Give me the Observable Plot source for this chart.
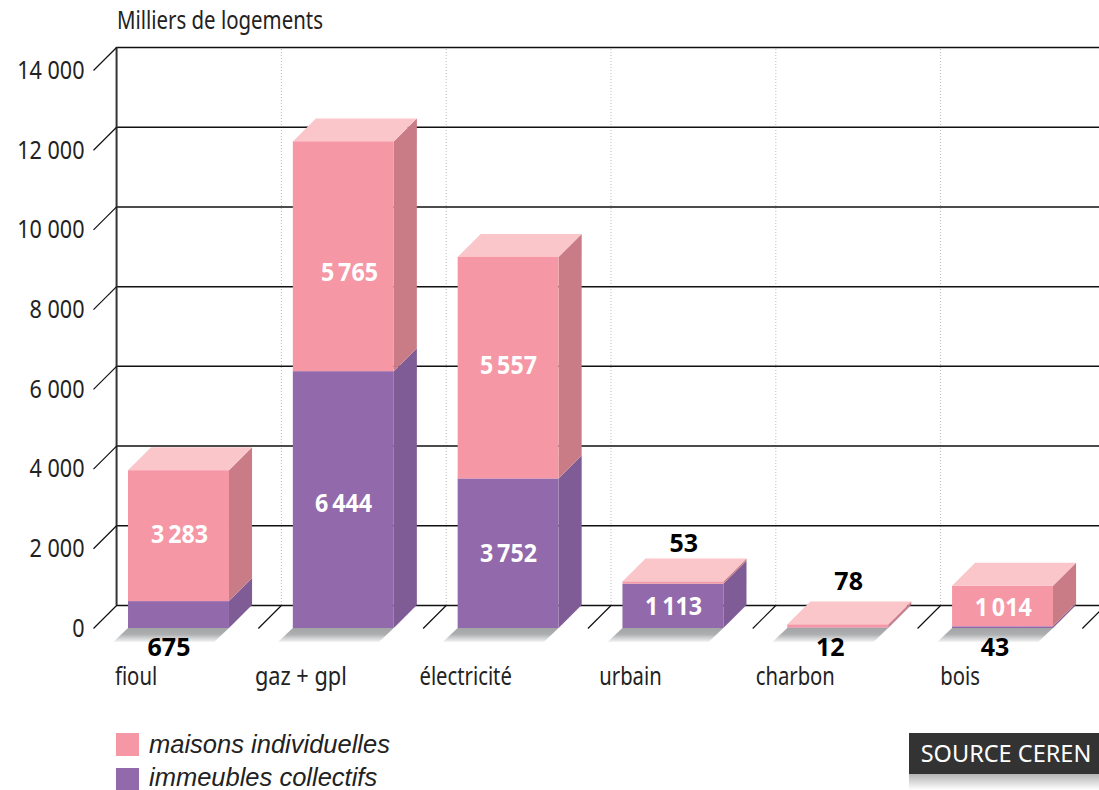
<!DOCTYPE html>
<html lang="fr">
<head>
<meta charset="utf-8">
<script src="https://cdn.jsdelivr.net/npm/d3@7"></script>
<script src="https://cdn.jsdelivr.net/npm/@observablehq/plot@0.6"></script>
<style>
  html, body { margin: 0; padding: 0; background: #fff; overflow: hidden; width: 1099px; height: 790px; }
  body { font-family: "Noto Sans", sans-serif; }
  #title { position: relative; height: 40px; }
  #title span { position: absolute; left: 117px; top: 3px; font-size: 25px; line-height: 32px; color: #222; transform: scaleX(.816); transform-origin: left center; white-space: nowrap; }
  #chart svg { display: block; }
  #foot { position: relative; height: 90px; overflow: hidden; }
  .sw { position: absolute; left: 116px; width: 23px; height: 23px; }
  .lg { position: absolute; left: 149px; font: italic 300 25.5px/26px "Liberation Sans", sans-serif; color: #222; white-space: nowrap; }
  #src { position: absolute; left: 909px; top: 33px; width: 190px; height: 41px; background: #333; color: #fff; font-size: 23.5px; line-height: 41px; text-align: center; text-indent: 4px; }
  #srcshade { position: absolute; left: 909px; top: 74px; width: 190px; height: 16px; background: linear-gradient(#b4b4b4, #fff); }
</style>
</head>
<body>
<div id="title"><span>Milliers de logements</span></div>
<div id="chart"></div>
<div id="foot">
  <div class="sw" style="top:33px;background:#f597a4"></div>
  <div class="lg" style="top:31px">maisons individuelles</div>
  <div class="sw" style="top:68px;height:22px;background:#9269ab"></div>
  <div class="lg" style="top:64px">immeubles collectifs</div>
  <div id="src">SOURCE CEREN</div>
  <div id="srcshade"></div>
</div>
<script>
const categories = ["fioul", "gaz + gpl", "électricité", "urbain", "charbon", "bois"];
const immeubles = [675, 6444, 3752, 1113, 12, 43];
const maisons = [3283, 5765, 5557, 53, 78, 1014];
const yTicks = [0, 2000, 4000, 6000, 8000, 10000, 12000, 14000];

// label anchors, in chart units (category index + fraction, thousands of dwellings)
const whiteLabels = [
  [0.522, 2350, "3\u2009283"], [1.553, 8930, "5\u2009765"], [1.517, 3130, "6\u2009444"],
  [2.518, 6580, "5\u2009557"], [2.518, 1860, "3\u2009752"], [3.52, 550, "1\u2009113"], [5.52, 520, "1\u2009014"]
];
const blackLabels = [
  [0.458, -480, "675"], [3.582, 2120, "53"], [4.582, 1160, "78"], [4.47, -500, "12"], [5.47, -500, "43"]
];

const depthX = 0.14, depthY = 577, shadowX = 0.09, shadowY = 351;
const barL = 0.2125, barR = 0.825;
const xEnd = 6.104;
const fmt = d3.formatLocale({thousands: "\u00a0", grouping: [3], decimal: ","}).format(",");

const fronts = [], sides = [], tops = [], shadows = [];
categories.forEach((c, i) => {
  const l = i + barL, r = i + barR, a = immeubles[i], b = a + maisons[i];
  fronts.push({x1: l, x2: r, y1: 0, y2: a, face: "immeubles"}, {x1: l, x2: r, y1: a, y2: b, face: "maisons"});
  [[0, a, "immeublesCote"], [a, b, "maisonsCote"]].forEach(([lo, hi, face]) => {
    sides.push({key: c + face, face, x1: r, x2: r, y1: lo, y2: hi},
               {key: c + face, face, x1: r + depthX, x2: r + depthX, y1: lo + depthY, y2: hi + depthY});
  });
  tops.push({key: c, face: "maisonsDessus", x1: l, x2: r, y1: b, y2: b},
            {key: c, face: "maisonsDessus", x1: l + depthX, x2: r + depthX, y1: b + depthY, y2: b + depthY});
  shadows.push({key: c, x1: l, x2: r, y1: 0, y2: 0},
               {key: c, x1: l - shadowX, x2: r - shadowX, y1: -shadowY, y2: -shadowY});
});
const boundaries = d3.range(0, categories.length + 1);
const gradient = () => {
  const defs = d3.create("svg:defs");
  const g = defs.append("linearGradient").attr("id", "shade").attr("x1", 0).attr("x2", 0).attr("y1", 0).attr("y2", 1);
  g.append("stop").attr("offset", "0%").attr("stop-color", "#a2a4a6");
  g.append("stop").attr("offset", "45%").attr("stop-color", "#acaeb0");
  g.append("stop").attr("offset", "100%").attr("stop-color", "#f4f4f4");
  return defs.node();
};

const plot = Plot.plot({
  width: 1099, height: 660,
  marginLeft: 93, marginRight: 0, marginTop: 0, marginBottom: 0,
  x: {domain: [0, xEnd], axis: null},
  y: {domain: [0, 14000], range: [588, 30], axis: null},
  color: {
    domain: ["immeubles", "maisons", "immeublesCote", "maisonsCote", "maisonsDessus"],
    range: ["#9269ab", "#f597a4", "#7f5c96", "#c97c86", "#fac6ca"]
  },
  marks: [
    gradient,
    Plot.ruleX(boundaries.slice(1, -1), {x: d => d + depthX, y1: depthY, y2: 14000 + depthY, stroke: "#bbb", strokeDasharray: "1,2", strokeWidth: 1}),
    Plot.ruleY(yTicks, {y: d => d + depthY, x1: depthX, x2: xEnd, stroke: "#111", strokeWidth: 1.5}),
    Plot.ruleX([depthX], {y1: depthY, y2: 14000 + depthY, stroke: "#333", strokeWidth: 2}),
    Plot.link(yTicks, {x1: 0, x2: depthX, y1: d => d, y2: d => d + depthY, stroke: "#111", strokeWidth: 1.2}),
    Plot.link(boundaries.slice(1), {x1: d => d, x2: d => d + depthX, y1: 0, y2: depthY, stroke: "#111", strokeWidth: 1.2}),
    Plot.area(shadows, {x1: "x1", x2: "x2", y1: "y1", y2: "y2", z: "key", fill: "url(#shade)", curve: "linear"}),
    Plot.area(sides, {x1: "x1", x2: "x2", y1: "y1", y2: "y2", z: "key", fill: "face", curve: "linear"}),
    Plot.area(tops, {x1: "x1", x2: "x2", y1: "y1", y2: "y2", z: "key", fill: "face", curve: "linear"}),
    Plot.rect(fronts, {x1: "x1", x2: "x2", y1: "y1", y2: "y2", fill: "face"}),
    Plot.axisY({ticks: yTicks, tickFormat: fmt, tickSize: 0, tickPadding: 9, dy: 0, fontSize: 26, label: null, fill: "#222", fontFamily: "Noto Sans"}),
    Plot.text(categories, {x: (d, i) => i + 0.258, y: 0, dy: 48, text: d => d, fontSize: 25, fill: "#222", fontFamily: "Noto Sans"}),
    Plot.text(whiteLabels, {x: d => d[0], y: d => d[1], text: d => d[2], fill: "white", fontSize: 25, fontWeight: "bold", fontFamily: "Noto Sans"}),
    Plot.text(blackLabels, {x: d => d[0], y: d => d[1], text: d => d[2], fill: "black", fontSize: 25, fontWeight: "bold", fontFamily: "Noto Sans"})
  ]
});
document.getElementById("chart").appendChild(plot);
// the reference face is a condensed humanist sans: narrow the labels to its widths
plot.querySelectorAll("text").forEach(t => {
  const s = t.textContent;
  const bold = t.closest('[font-weight="bold"]');
  if (bold && s.length < 5) return;
  const ratio = bold ? 0.93 : categories.includes(s) ? (s === "gaz + gpl" ? 0.87 : 0.81) : 0.83;
  t.setAttribute("textLength", (t.getComputedTextLength() * ratio).toFixed(1));
  t.setAttribute("lengthAdjust", "spacingAndGlyphs");
});
</script>
</body>
</html>
